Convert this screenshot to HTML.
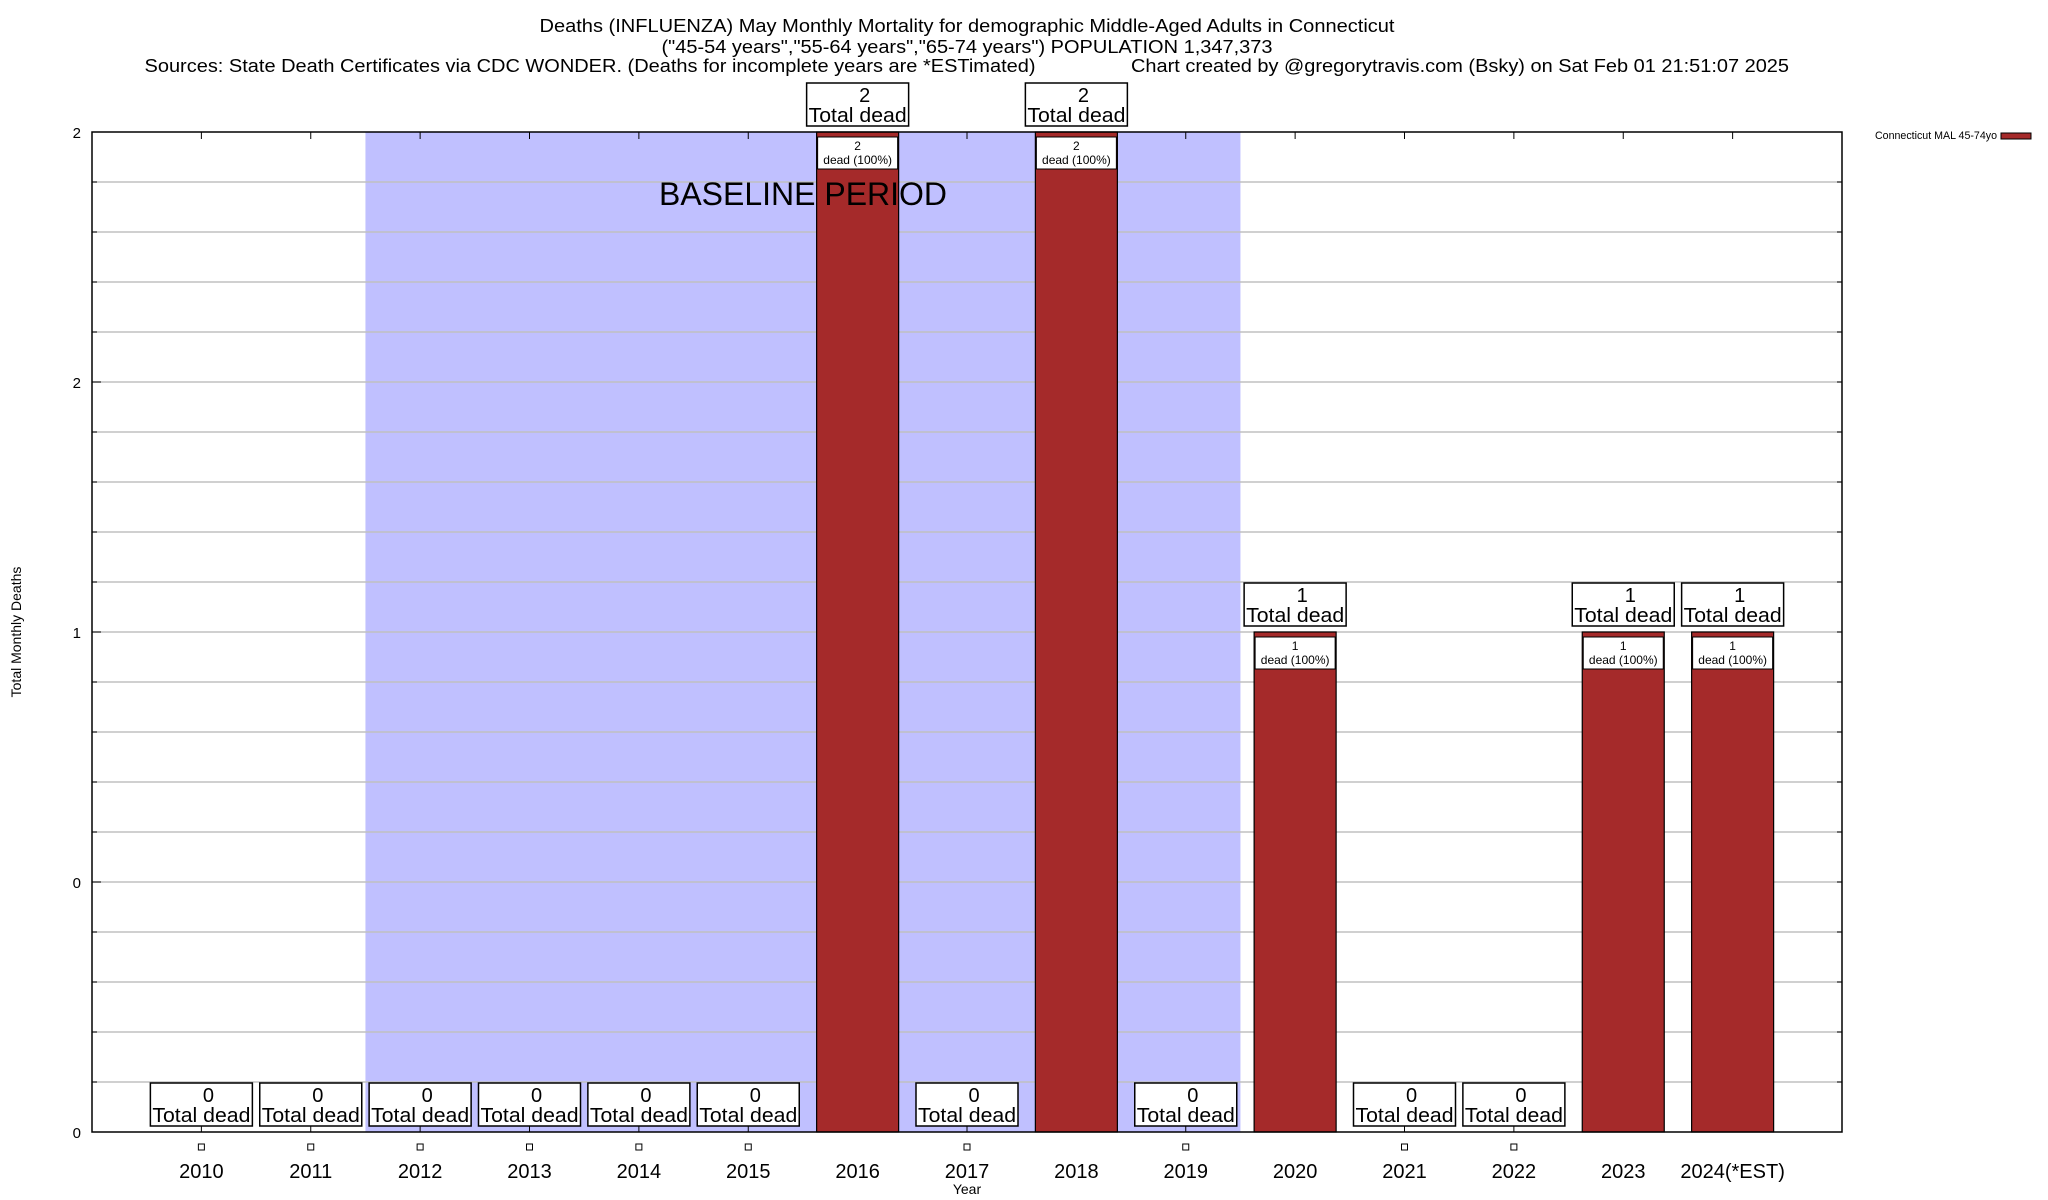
<!DOCTYPE html>
<html><head><meta charset="utf-8"><style>
html,body{margin:0;padding:0;background:#fff;}
svg{display:block;font-family:"Liberation Sans",Arial,sans-serif;}
</style></head><body>
<svg id="chart" width="2048" height="1200" viewBox="0 0 2048 1200" xmlns="http://www.w3.org/2000/svg">
<g font-size="18" text-anchor="middle">
<text x="967" y="32" textLength="855" lengthAdjust="spacingAndGlyphs">Deaths (INFLUENZA) May Monthly Mortality for demographic Middle-Aged Adults in Connecticut</text>
<text x="967" y="53" textLength="611" lengthAdjust="spacingAndGlyphs">("45-54 years","55-64 years","65-74 years") POPULATION 1,347,373</text>
<text x="590" y="72" textLength="891" lengthAdjust="spacingAndGlyphs">Sources: State Death Certificates via CDC WONDER. (Deaths for incomplete years are *ESTimated)</text>
<text x="1460" y="72" textLength="658" lengthAdjust="spacingAndGlyphs">Chart created by @gregorytravis.com (Bsky) on Sat Feb 01 21:51:07 2025</text>
</g>
<g id="plot"></g>
<g>
<text x="1997" y="139" font-size="11" text-anchor="end" textLength="122" lengthAdjust="spacingAndGlyphs">Connecticut MAL 45-74yo</text>
<rect x="2001" y="133" width="30" height="6" fill="#a52a2a" stroke="#000" stroke-width="1"/>
</g>
<text x="0" y="0" font-size="14" text-anchor="middle" transform="translate(21,632) rotate(-90)">Total Monthly Deaths</text>
<text x="967" y="1194" font-size="14" text-anchor="middle">Year</text>
</svg>
<script>
const categories = ["2010","2011","2012","2013","2014","2015","2016","2017","2018","2019","2020","2021","2022","2023","2024(*EST)"];
const deaths = [0,0,0,0,0,0,2,0,2,0,1,0,0,1,1];
const yTickValues = [0,0.5,1,1.5,2];
const yTickLabels = ["0","0","1","2","2"];
const baselineStart = 2; const baselineEnd = 9;

const NS="http://www.w3.org/2000/svg";
const L=92,R=1842,T=132,B=1132;
const step=(R-L)/(categories.length+1);
const x=i=>L+(i+1)*step;
const y=v=>B-(v-0)*(B-T)/2;
const g=document.getElementById('plot');
function mk(tag,attrs,parent){const e=document.createElementNS(NS,tag);for(const k in attrs)e.setAttribute(k,attrs[k]);(parent||g).appendChild(e);return e;}

const shade=mk('rect',{x:x(baselineStart)-step/2,y:T,width:(baselineEnd-baselineStart+1)*step,height:B-T,fill:'#c0c0ff'});


for(let k=1;k<20;k++){
  const v=k*0.1;
  const gl=mk('line',{x1:L,x2:R,y1:y(v),y2:y(v),stroke:'#c0c0c0','stroke-width':1.5});
  
  
  mk('line',{x1:L,x2:L+5,y1:y(v),y2:y(v),stroke:'#000'});
  mk('line',{x1:R-5,x2:R,y1:y(v),y2:y(v),stroke:'#000'});
}

const bw=82;
categories.forEach((c,i)=>{
  const cx=x(i), v=deaths[i];
  mk('line',{x1:cx,x2:cx,y1:T,y2:T+7,stroke:'#000'});
  mk('line',{x1:cx,x2:cx,y1:B-7,y2:B,stroke:'#000'});
  if(v>0){
    const bar=mk('rect',{x:cx-bw/2,y:y(v),width:bw,height:B-y(v),fill:'#a52a2a',stroke:'#000','stroke-width':1.2});
    
    
    const ib=mk('rect',{x:cx-bw/2+1,y:y(v)+5,width:bw-2,height:32,fill:'#fff',stroke:'#000','stroke-width':1});
    
    
    const t1=mk('text',{x:cx,y:y(v)+18,'font-size':12,'text-anchor':'middle'});t1.textContent=String(v);
    const t2=mk('text',{x:cx,y:y(v)+32,'font-size':12,'text-anchor':'middle'});t2.textContent='dead (100%)';
  }
  const top=y(v)-6;
  const lb=mk('rect',{x:cx-51,y:top-43,width:102,height:43,fill:'#fff',stroke:'#000','stroke-width':1.5});
  
  
  const n=mk('text',{x:cx+7,y:top-24,'font-size':20,'text-anchor':'middle'});n.textContent=String(v);
  const td=mk('text',{x:cx,y:top-4,'font-size':20,'text-anchor':'middle',textLength:98,lengthAdjust:'spacingAndGlyphs'});td.textContent='Total dead';
  if(v===0) mk('rect',{x:cx-3,y:1144,width:6,height:6,fill:'#fff',stroke:'#000','stroke-width':1});
  const xl=mk('text',{x:cx,y:1178,'font-size':20,'text-anchor':'middle'});xl.textContent=c;
  
  
});
const bl=mk('text',{x:803,y:205,'font-size':32,'text-anchor':'middle',textLength:288,lengthAdjust:'spacingAndGlyphs'});
bl.textContent='BASELINE PERIOD';


yTickValues.forEach((v,i)=>{
  const t=mk('text',{x:81,y:y(v)+6,'font-size':15,'text-anchor':'end'});t.textContent=yTickLabels[i];
  
  
  mk('line',{x1:L,x2:L+9,y1:y(v),y2:y(v),stroke:'#000'});
});
const ax=mk('rect',{x:L,y:T,width:R-L,height:B-T,fill:'none',stroke:'#000','stroke-width':1.5});


</script>
</body></html>
